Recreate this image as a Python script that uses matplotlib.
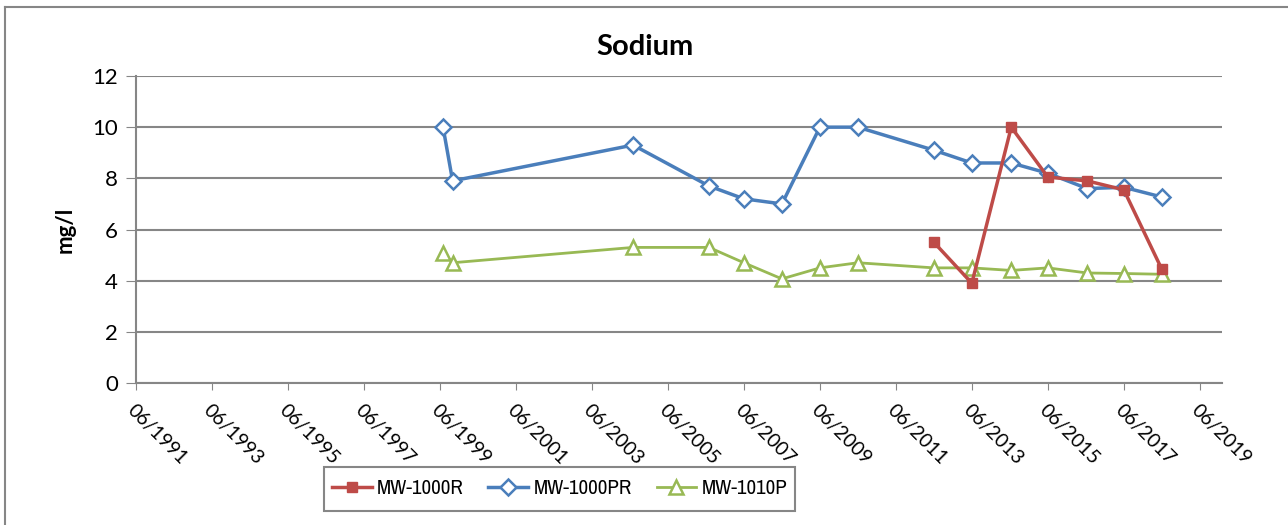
import matplotlib
matplotlib.use("Agg")
import matplotlib.pyplot as plt
from matplotlib.lines import Line2D
from matplotlib.patches import Rectangle
from matplotlib import font_manager
import pandas as pd

plt.rcParams['font.family'] = ['Lato', 'DejaVu Sans']
names = sorted({f.name for f in font_manager.fontManager.ttflist})
narrow = [n for n in names if 'Narrow' in n or 'Condensed' in n]
leg_family = narrow[0] if narrow else 'Lato'

dates_r = ["2012-06-01", "2013-06-01", "2014-06-15", "2015-06-01", "2016-06-15", "2017-06-01", "2018-06-01"]
vals_r = [5.5, 3.9, 10.0, 8.05, 7.9, 7.55, 4.45]

dates_pr = ["1999-07-01", "1999-10-01", "2004-07-01", "2006-07-01", "2007-06-01", "2008-06-01",
            "2009-06-01", "2010-06-01", "2012-06-01", "2013-06-01", "2014-06-15", "2015-06-01",
            "2016-06-15", "2017-06-01", "2018-06-01"]
vals_pr = [10.0, 7.9, 9.3, 7.7, 7.2, 7.0, 10.0, 10.0, 9.1, 8.6, 8.6, 8.2, 7.6, 7.65, 7.27]

dates_p = dates_pr
vals_p = [5.1, 4.7, 5.3, 5.3, 4.7, 4.07, 4.5, 4.7, 4.5, 4.5, 4.4, 4.5, 4.3, 4.28, 4.25]

tick_years = list(range(1991, 2020, 2))
tick_labels = [f"06/{y}" for y in tick_years]

fig = plt.figure(figsize=(12.88, 5.25), dpi=100)
ax = fig.add_axes([136/1288, 1 - 383/525, (1222-136)/1288, (383-76)/525])

red, blue, green = "#BE4B48", "#4A7EBB", "#98B954"
ax.plot(pd.to_datetime(dates_r), vals_r, color=red, lw=2.5, marker='s', ms=7,
        mfc=red, mec=red, label="MW-1000R", zorder=4)
ax.plot(pd.to_datetime(dates_pr), vals_pr, color=blue, lw=2.5, marker='D', ms=8,
        mfc='white', mec=blue, mew=1.8, label="MW-1000PR", zorder=3)
ax.plot(pd.to_datetime(dates_p), vals_p, color=green, lw=2.0, marker='^', ms=10,
        mfc='white', mec=green, mew=1.8, label="MW-1010P", zorder=2)

ticks = pd.to_datetime([f"{y}-06-01" for y in tick_years])
ax.set_xticks(ticks)
ax.set_xticklabels(tick_labels, rotation=-45, ha='left', va='top', rotation_mode='anchor', fontsize=14)
ax.set_xlim(pd.Timestamp("1991-06-01"), pd.Timestamp("2020-01-01"))
ax.set_ylim(0, 12)
ax.set_yticks(range(0, 13, 2))
ax.tick_params(axis='y', labelsize=16, length=7, color='#868686', pad=6)
ax.tick_params(axis='x', length=5, color='#868686', pad=8)

ax.grid(axis='y', color='#868686', lw=1.5)
ax.set_axisbelow(True)
for s in ['top', 'right']:
    ax.spines[s].set_visible(False)
for s in ['left', 'bottom']:
    ax.spines[s].set_color('#868686')
    ax.spines[s].set_linewidth(1.5)

ax.set_ylabel("mg/l", fontsize=16, fontweight='bold', labelpad=12)
fig.text(0.5005, 1 - 47/525, "Sodium", ha='center', va='center', fontsize=21, fontweight='bold')

fig.add_artist(Rectangle((324/1288, 1 - 511/525), 471/1288, 44/525, transform=fig.transFigure,
                         fill=False, edgecolor='#868686', lw=1.5))
leg = fig.legend(loc='center', bbox_to_anchor=(559.5/1288, 1 - 489/525),
                 ncol=3, frameon=False, prop={'family': [leg_family, 'Lato'], 'size': 15},
                 handlelength=1.9, columnspacing=1.2, handletextpad=0.25, borderaxespad=0, borderpad=0)

fig.add_artist(Line2D([5/1288, 5/1288], [0, 1 - 7/525], transform=fig.transFigure, color='#868686', lw=1.5))
fig.add_artist(Line2D([5/1288, 1], [1 - 7/525, 1 - 7/525], transform=fig.transFigure, color='#868686', lw=1.5))

fig.savefig("out.png", dpi=100)
